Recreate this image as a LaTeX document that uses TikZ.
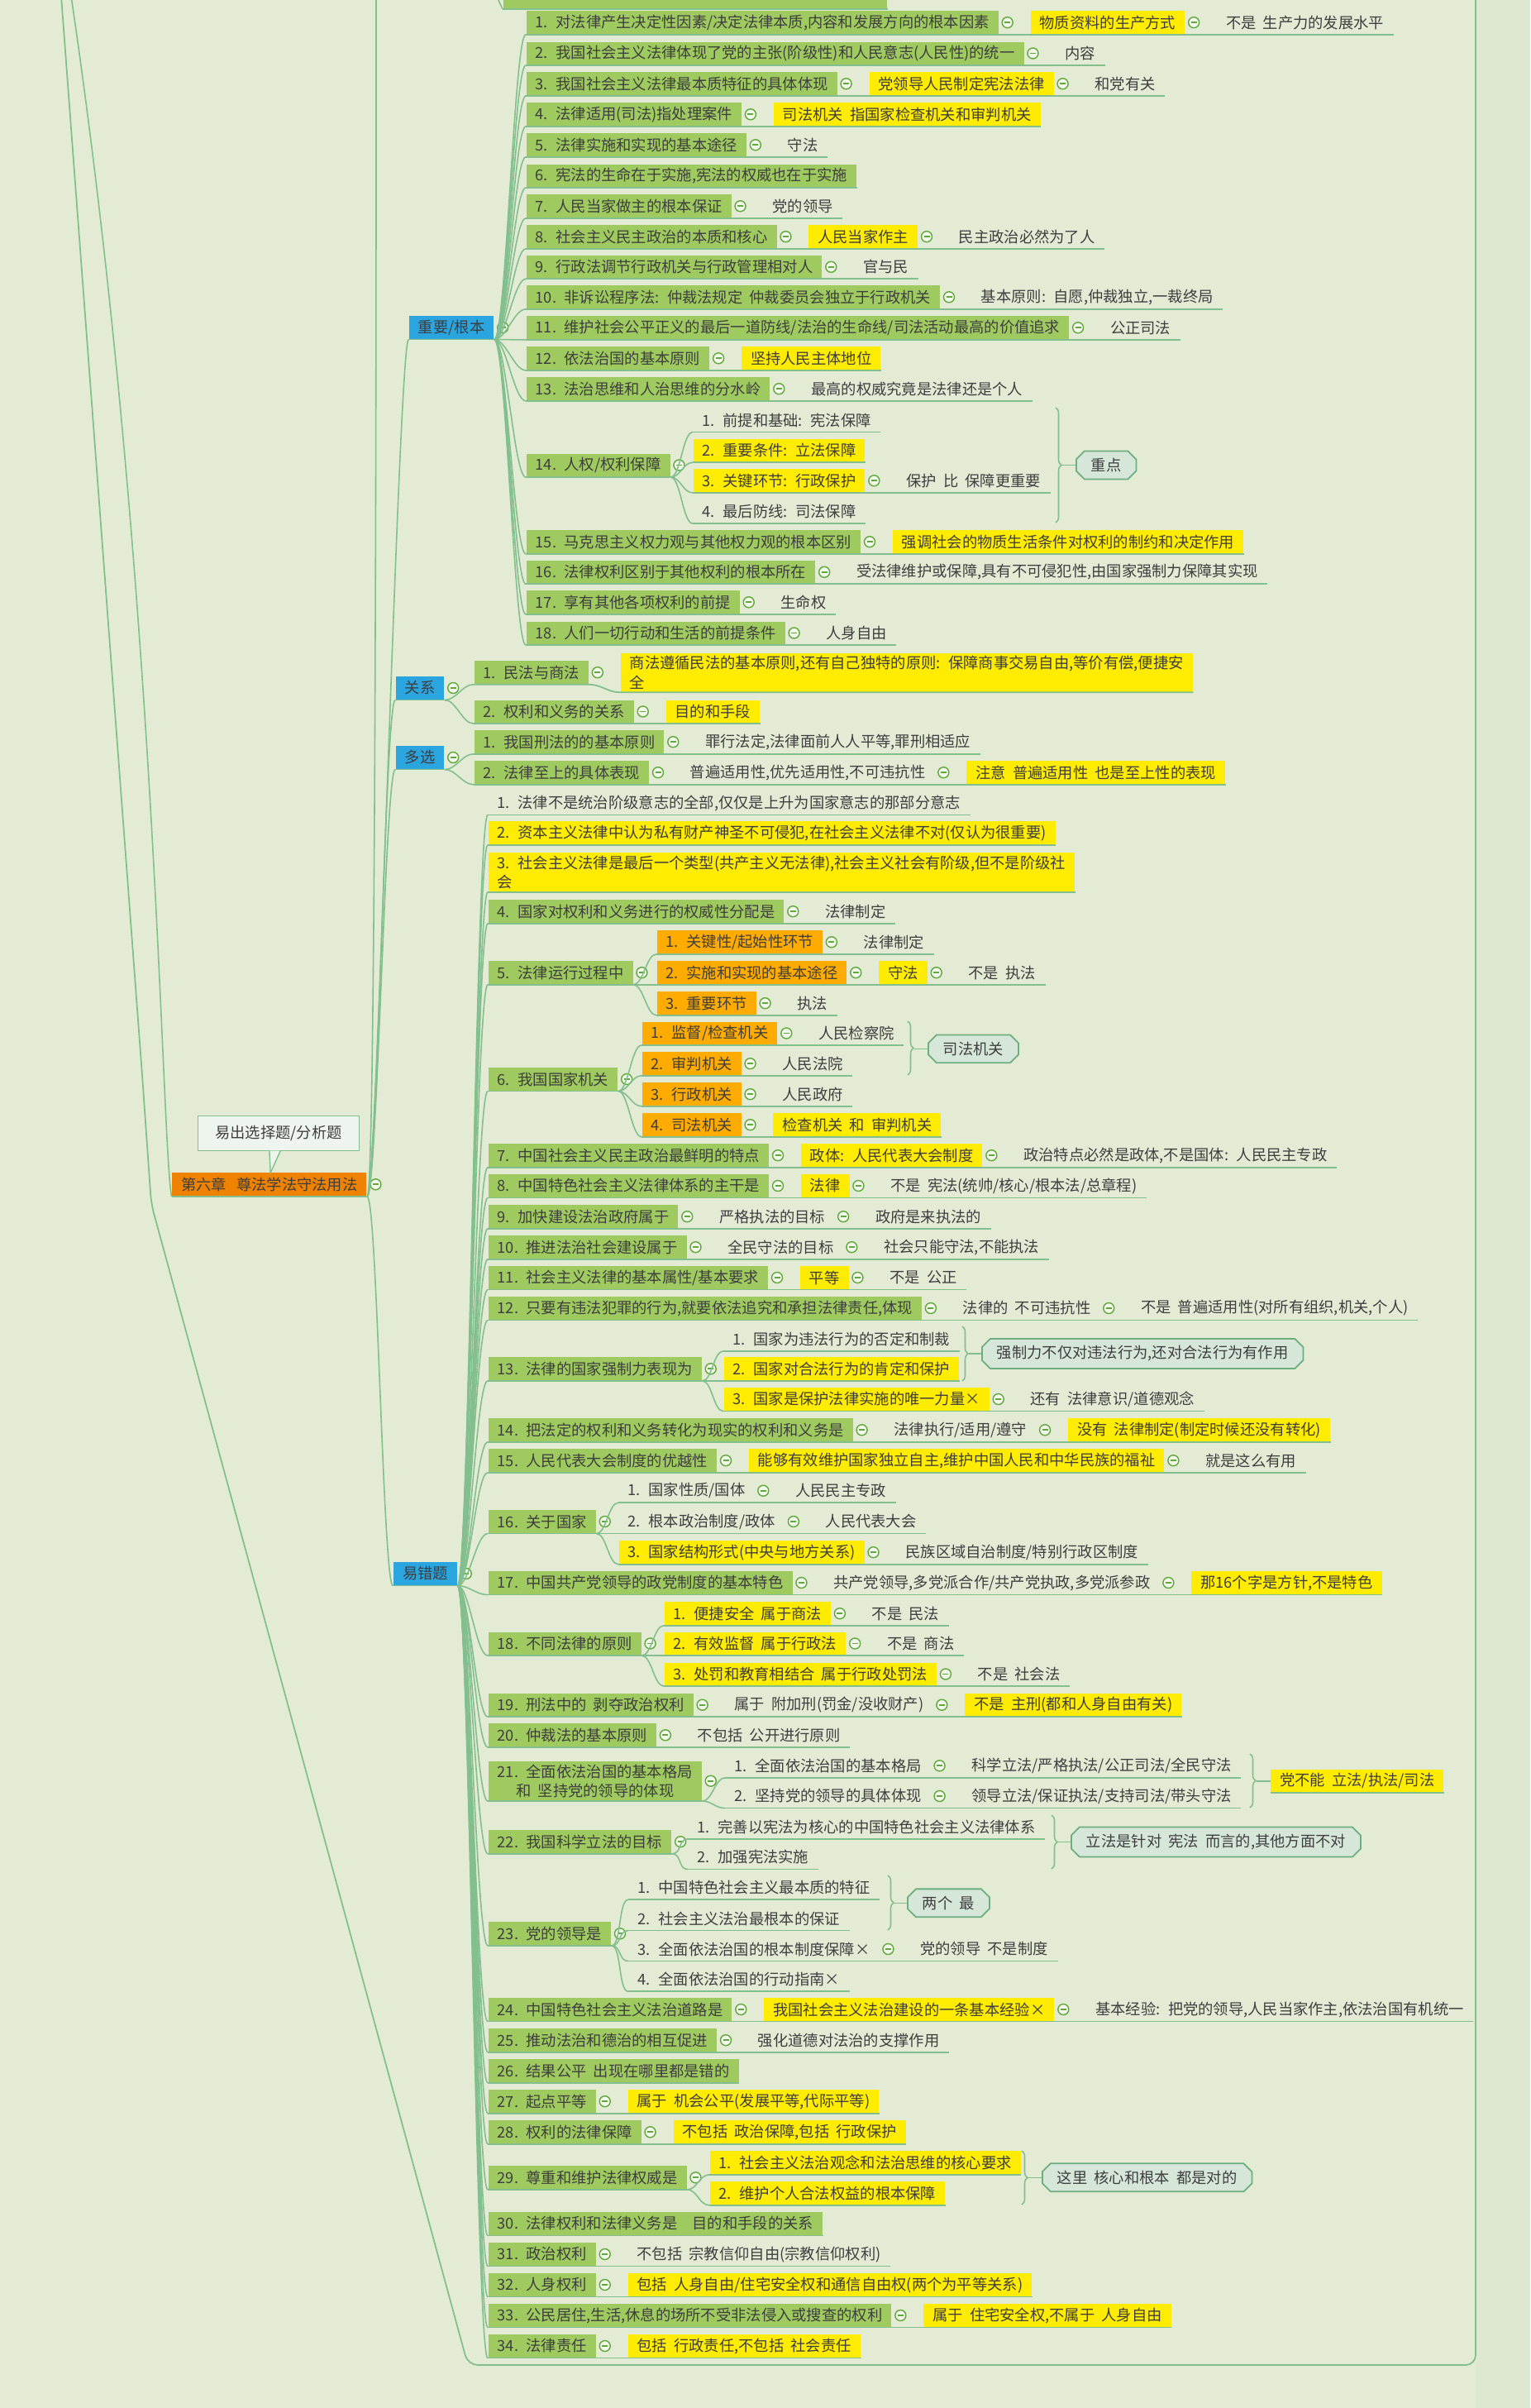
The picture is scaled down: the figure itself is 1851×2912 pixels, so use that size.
\documentclass[tikz,border=0pt]{standalone}
\usepackage{fontspec}
\setmainfont[WordSpace=2]{Noto Sans CJK SC}
\usetikzlibrary{positioning,shapes.misc,decorations.pathreplacing}
\definecolor{bgc}{HTML}{E3EBD5}
\definecolor{bgr}{HTML}{DEE7D0}
\definecolor{ink}{HTML}{3E3E3E}
\definecolor{leaf}{HTML}{9ECA5F}
\definecolor{hilite}{HTML}{FFEC00}
\definecolor{warm}{HTML}{FFAB00}
\definecolor{rootc}{HTML}{EF8200}
\definecolor{branch}{HTML}{2AA5E0}
\definecolor{linec}{HTML}{82BE8E}
\definecolor{foldc}{HTML}{5FA83A}
\definecolor{foldbg}{HTML}{F4F8EC}
\definecolor{notec}{HTML}{6DAE7E}
\definecolor{notebg}{HTML}{D6E7DA}
\definecolor{bubble}{HTML}{EEF5EE}
\tikzset{
  every node/.style={font=\fontsize{5.2pt}{6.6pt}\selectfont,text=ink},
  topic/.style={anchor=west,minimum height=0.277cm,inner xsep=0.11cm,inner ysep=1pt},
  gbox/.style={topic,fill=leaf},
  ybox/.style={topic,fill=hilite},
  obox/.style={topic,fill=warm},
  pbox/.style={topic},
  bbox/.style={topic,fill=branch,anchor=east},
  fold/.style={circle,draw=foldc,fill=foldbg,minimum size=0.13cm,inner sep=0pt,line width=0.4pt,
    path picture={\draw[foldc,line width=0.5pt] ([xshift=-0.035cm]path picture bounding box.center)
      -- ([xshift=0.035cm]path picture bounding box.center);}},
  fo/.style={fold,right=0.03cm of #1},
  af/.style={right=0.2cm of #1},
  uline/.style={draw=linec,line width=0.5pt},
  link/.style={draw=linec,line width=0.45pt},
  note/.style={chamfered rectangle,chamfered rectangle xsep=0.05cm,chamfered rectangle ysep=0.05cm,
    draw=notec,fill=notebg,line width=0.5pt,minimum height=0.24cm,inner xsep=0.13cm,inner ysep=1pt,anchor=west},
  summ/.style={link,decorate,decoration={brace,amplitude=0.07cm}},
}

\begin{document}
\begin{tikzpicture}[x=0.01cm,y=-0.01cm]
  \useasboundingbox (0,0) rectangle (1851,2912);
  \clip (0,0) rectangle (1851,2912);
  \fill[bgc] (0,0) rectangle (1851,2912);
  \fill[bgr] (1785,0) rectangle (1851,2912);
  % boundary round the chapter
  \draw[linec,line width=0.5pt,rounded corners=0.12cm] (74,-5) -- (172,1300) -- (183,1456)
    -- (566,2860) -- (1785,2860) -- (1785,-5);

  % chapter
  \node[topic,fill=rootc,minimum height=0.281cm] (root) at (207.6,1432.3) {第六章\hspace{0.12cm}尊法学法守法用法};
  \node[fo=root] (rootf) {};
  \node[draw=linec,fill=bubble,minimum width=1.95cm,minimum height=0.42cm,inner sep=0pt] (tipbox)
    at (337,1370.5) {易出选择题/分析题};
  \filldraw[draw=linec,fill=bubble] (325.9,1391.5) -- (327.2,1418.3) -- (339.3,1391.5);
  \coordinate (upB) at (86,-5);
  \coordinate (upR) at (455,-5);
  \node[gbox,minimum width=4.64cm] (prev) at (608,-3.5) {};
  \coordinate (prevp) at (596,-40);

  % branches
  \node[bbox] (zy) at (598,396) {重要/根本};
  \node[fo=zy] (zyf) {};
  \node[bbox] (gx) at (538,832) {关系};
  \node[fo=gx] (gxf) {};
  \node[bbox] (dx) at (538,916) {多选};
  \node[fo=dx] (dxf) {};
  \node[bbox] (yc) at (553.6,1903) {易错题};
  \node[fo=yc] (ycf) {};

  % 重要/根本
  \node[gbox] (z1) at (636,27.2) {1. 对法律产生决定性因素/决定法律本质,内容和发展方向的根本因素};
  \node[fo=z1] (z1f) {};
  \node[ybox,af=z1f] (z1a) {物质资料的生产方式};
  \node[fo=z1a] (z1g) {};
  \node[pbox,af=z1g] (z1b) {不是 生产力的发展水平};
  \node[gbox] (z2) at (636,64.5) {2. 我国社会主义法律体现了党的主张(阶级性)和人民意志(人民性)的统一};
  \node[fo=z2] (z2f) {};
  \node[pbox,af=z2f] (z2a) {内容};
  \node[gbox] (z3) at (636,101.3) {3. 我国社会主义法律最本质特征的具体体现};
  \node[fo=z3] (z3f) {};
  \node[ybox,af=z3f] (z3a) {党领导人民制定宪法法律};
  \node[fo=z3a] (z3g) {};
  \node[pbox,af=z3g] (z3b) {和党有关};
  \node[gbox] (z4) at (636,138.3) {4. 法律适用(司法)指处理案件};
  \node[fo=z4] (z4f) {};
  \node[ybox,af=z4f] (z4a) {司法机关 指国家检查机关和审判机关};
  \node[gbox] (z5) at (636,175.3) {5. 法律实施和实现的基本途径};
  \node[fo=z5] (z5f) {};
  \node[pbox,af=z5f] (z5a) {守法};
  \node[gbox] (z6) at (636,212.5) {6. 宪法的生命在于实施,宪法的权威也在于实施};
  \node[gbox] (z7) at (636,249.3) {7. 人民当家做主的根本保证};
  \node[fo=z7] (z7f) {};
  \node[pbox,af=z7f] (z7a) {党的领导};
  \node[gbox] (z8) at (636,286.2) {8. 社会主义民主政治的本质和核心};
  \node[fo=z8] (z8f) {};
  \node[ybox,af=z8f] (z8a) {人民当家作主};
  \node[fo=z8a] (z8g) {};
  \node[pbox,af=z8g] (z8b) {民主政治必然为了人};
  \node[gbox] (z9) at (636,322.8) {9. 行政法调节行政机关与行政管理相对人};
  \node[fo=z9] (z9f) {};
  \node[pbox,af=z9f] (z9a) {官与民};
  \node[gbox] (z10) at (636,359.3) {10. 非诉讼程序法: 仲裁法规定 仲裁委员会独立于行政机关};
  \node[fo=z10] (z10f) {};
  \node[pbox,af=z10f] (z10a) {基本原则: 自愿,仲裁独立,一裁终局};
  \node[gbox] (z11) at (636,396.3) {11. 维护社会公平正义的最后一道防线/法治的生命线/司法活动最高的价值追求};
  \node[fo=z11] (z11f) {};
  \node[pbox,af=z11f] (z11a) {公正司法};
  \node[gbox] (z12) at (636,433.3) {12. 依法治国的基本原则};
  \node[fo=z12] (z12f) {};
  \node[ybox,af=z12f] (z12a) {坚持人民主体地位};
  \node[gbox] (z13) at (636,470.2) {13. 法治思维和人治思维的分水岭};
  \node[fo=z13] (z13f) {};
  \node[pbox,af=z13f] (z13a) {最高的权威究竟是法律还是个人};
  \node[gbox] (z14) at (636,562.5) {14. 人权/权利保障};
  \node[fo=z14] (z14f) {};
  \node[pbox] (z14s1) at (838,508) {1. 前提和基础: 宪法保障};
  \node[ybox] (z14s2) at (838,544.7) {2. 重要条件: 立法保障};
  \node[ybox] (z14s3) at (838,581.3) {3. 关键环节: 行政保护};
  \node[fo=z14s3] (z14s3f) {};
  \node[pbox,af=z14s3f] (z14s3a) {保护 比 保障更重要};
  \node[pbox] (z14s4) at (838,618.5) {4. 最后防线: 司法保障};
  \coordinate (br14a) at (1277,493);
  \coordinate (br14b) at (1277,632);
  \coordinate (br14m) at (1285,562.5);
  \node[note] (n14) at (1301,562.5) {重点};
  \node[gbox] (z15) at (636,655.2) {15. 马克思主义权力观与其他权力观的根本区别};
  \node[fo=z15] (z15f) {};
  \node[ybox,af=z15f] (z15a) {强调社会的物质生活条件对权利的制约和决定作用};
  \node[gbox] (z16) at (636,691.8) {16. 法律权利区别于其他权利的根本所在};
  \node[fo=z16] (z16f) {};
  \node[pbox,af=z16f] (z16a) {受法律维护或保障,具有不可侵犯性,由国家强制力保障其实现};
  \node[gbox] (z17) at (636,728.3) {17. 享有其他各项权利的前提};
  \node[fo=z17] (z17f) {};
  \node[pbox,af=z17f] (z17a) {生命权};
  \node[gbox] (z18) at (636,765.5) {18. 人们一切行动和生活的前提条件};
  \node[fo=z18] (z18f) {};
  \node[pbox,af=z18f] (z18a) {人身自由};

  % 关系
  \node[gbox] (g1) at (573,813.2) {1. 民法与商法};
  \node[fo=g1] (g1f) {};
  \node[ybox,af=g1f,align=left] (g1a) {商法遵循民法的基本原则,还有自己独特的原则: 保障商事交易自由,等价有偿,便捷安\\全};
  \node[gbox] (g2) at (573,860.5) {2. 权利和义务的关系};
  \node[fo=g2] (g2f) {};
  \node[ybox,af=g2f] (g2a) {目的和手段};

  % 多选
  \node[gbox] (d1) at (573,897.2) {1. 我国刑法的的基本原则};
  \node[fo=d1] (d1f) {};
  \node[pbox,af=d1f] (d1a) {罪行法定,法律面前人人平等,罪刑相适应};
  \node[gbox] (d2) at (573,934.2) {2. 法律至上的具体表现};
  \node[fo=d2] (d2f) {};
  \node[pbox,af=d2f] (d2a) {普遍适用性,优先适用性,不可违抗性};
  \node[fo=d2a] (d2g) {};
  \node[ybox,af=d2g] (d2b) {注意 普遍适用性 也是至上性的表现};

  % 易错题
  \node[pbox] (y1) at (590,971) {1. 法律不是统治阶级意志的全部,仅仅是上升为国家意志的那部分意志};
  \node[ybox] (y2) at (590,1007.3) {2. 资本主义法律中认为私有财产神圣不可侵犯,在社会主义法律不对(仅认为很重要)};
  \node[ybox,align=left] (y3) at (590,1054.7) {3. 社会主义法律是最后一个类型(共产主义无法律),社会主义社会有阶级,但不是阶级社\\会};
  \node[gbox] (y4) at (590,1102.2) {4. 国家对权利和义务进行的权威性分配是};
  \node[fo=y4] (y4f) {};
  \node[pbox,af=y4f] (y4a) {法律制定};
  \node[gbox] (y5) at (590,1176.2) {5. 法律运行过程中};
  \node[fo=y5] (y5f) {};
  \node[obox] (y5s1) at (794,1139.3) {1. 关键性/起始性环节};
  \node[fo=y5s1] (y5s1f) {};
  \node[pbox,af=y5s1f] (y5s1a) {法律制定};
  \node[obox] (y5s2) at (794,1176.2) {2. 实施和实现的基本途径};
  \node[fo=y5s2] (y5s2f) {};
  \node[ybox,af=y5s2f] (y5s2a) {守法};
  \node[fo=y5s2a] (y5s2g) {};
  \node[pbox,af=y5s2g] (y5s2b) {不是 执法};
  \node[obox] (y5s3) at (794,1213.2) {3. 重要环节};
  \node[fo=y5s3] (y5s3f) {};
  \node[pbox,af=y5s3f] (y5s3a) {执法};
  \node[gbox] (y6) at (590,1305) {6. 我国国家机关};
  \node[fo=y6] (y6f) {};
  \node[obox] (y6s1) at (776,1249.5) {1. 监督/检查机关};
  \node[fo=y6s1] (y6s1f) {};
  \node[pbox,af=y6s1f] (y6s1a) {人民检察院};
  \node[obox] (y6s2) at (776,1286.2) {2. 审判机关};
  \node[fo=y6s2] (y6s2f) {};
  \node[pbox,af=y6s2f] (y6s2a) {人民法院};
  \coordinate (br6a) at (1098,1235);
  \coordinate (br6b) at (1098,1300);
  \coordinate (br6m) at (1106,1268.4);
  \node[note] (n6) at (1122,1268.4) {司法机关};
  \node[obox] (y6s3) at (776,1323.2) {3. 行政机关};
  \node[fo=y6s3] (y6s3f) {};
  \node[pbox,af=y6s3f] (y6s3a) {人民政府};
  \node[obox] (y6s4) at (776,1360.2) {4. 司法机关};
  \node[fo=y6s4] (y6s4f) {};
  \node[ybox,af=y6s4f] (y6s4a) {检查机关 和 审判机关};
  \node[gbox] (y7) at (590,1397.2) {7. 中国社会主义民主政治最鲜明的特点};
  \node[fo=y7] (y7f) {};
  \node[ybox,af=y7f] (y7a) {政体: 人民代表大会制度};
  \node[fo=y7a] (y7g) {};
  \node[pbox,af=y7g] (y7b) {政治特点必然是政体,不是国体: 人民民主专政};
  \node[gbox] (y8) at (590,1434) {8. 中国特色社会主义法律体系的主干是};
  \node[fo=y8] (y8f) {};
  \node[ybox,af=y8f] (y8a) {法律};
  \node[fo=y8a] (y8g) {};
  \node[pbox,af=y8g] (y8b) {不是 宪法(统帅/核心/根本法/总章程)};
  \node[gbox] (y9) at (590,1471.2) {9. 加快建设法治政府属于};
  \node[fo=y9] (y9f) {};
  \node[pbox,af=y9f] (y9a) {严格执法的目标};
  \node[fo=y9a] (y9g) {};
  \node[pbox,af=y9g] (y9b) {政府是来执法的};
  \node[gbox] (y10) at (590,1508.2) {10. 推进法治社会建设属于};
  \node[fo=y10] (y10f) {};
  \node[pbox,af=y10f] (y10a) {全民守法的目标};
  \node[fo=y10a] (y10g) {};
  \node[pbox,af=y10g] (y10b) {社会只能守法,不能执法};
  \node[gbox] (y11) at (590,1545) {11. 社会主义法律的基本属性/基本要求};
  \node[fo=y11] (y11f) {};
  \node[ybox,af=y11f] (y11a) {平等};
  \node[fo=y11a] (y11g) {};
  \node[pbox,af=y11g] (y11b) {不是 公正};
  \node[gbox] (y12) at (590,1582) {12. 只要有违法犯罪的行为,就要依法追究和承担法律责任,体现};
  \node[fo=y12] (y12f) {};
  \node[pbox,af=y12f] (y12a) {法律的 不可违抗性};
  \node[fo=y12a] (y12g) {};
  \node[pbox,af=y12g] (y12b) {不是 普遍适用性(对所有组织,机关,个人)};
  \node[gbox] (y13) at (590,1655.3) {13. 法律的国家强制力表现为};
  \node[fo=y13] (y13f) {};
  \node[pbox] (y13s1) at (875,1619.3) {1. 国家为违法行为的否定和制裁};
  \node[ybox] (y13s2) at (875,1655.3) {2. 国家对合法行为的肯定和保护};
  \coordinate (br13a) at (1164,1604);
  \coordinate (br13b) at (1164,1670);
  \coordinate (br13m) at (1172,1637);
  \node[note] (n13) at (1187,1637) {强制力不仅对违法行为,还对合法行为有作用};
  \node[ybox] (y13s3) at (875,1692) {3. 国家是保护法律实施的唯一力量×};
  \node[fo=y13s3] (y13s3f) {};
  \node[pbox,af=y13s3f] (y13s3a) {还有 法律意识/道德观念};
  \node[gbox] (y14) at (590,1729.3) {14. 把法定的权利和义务转化为现实的权利和义务是};
  \node[fo=y14] (y14f) {};
  \node[pbox,af=y14f] (y14a) {法律执行/适用/遵守};
  \node[fo=y14a] (y14g) {};
  \node[ybox,af=y14g] (y14b) {没有 法律制定(制定时候还没有转化)};
  \node[gbox] (y15) at (590,1766.2) {15. 人民代表大会制度的优越性};
  \node[fo=y15] (y15f) {};
  \node[ybox,af=y15f] (y15a) {能够有效维护国家独立自主,维护中国人民和中华民族的福祉};
  \node[fo=y15a] (y15g) {};
  \node[pbox,af=y15g] (y15b) {就是这么有用};
  \node[gbox] (y16) at (590,1840) {16. 关于国家};
  \node[fo=y16] (y16f) {};
  \node[pbox] (y16s1) at (748,1802.7) {1. 国家性质/国体};
  \node[fo=y16s1] (y16s1f) {};
  \node[pbox,af=y16s1f] (y16s1a) {人民民主专政};
  \node[pbox] (y16s2) at (748,1840) {2. 根本政治制度/政体};
  \node[fo=y16s2] (y16s2f) {};
  \node[pbox,af=y16s2f] (y16s2a) {人民代表大会};
  \node[ybox] (y16s3) at (748,1877.2) {3. 国家结构形式(中央与地方关系)};
  \node[fo=y16s3] (y16s3f) {};
  \node[pbox,af=y16s3f] (y16s3a) {民族区域自治制度/特别行政区制度};
  \node[gbox] (y17) at (590,1914) {17. 中国共产党领导的政党制度的基本特色};
  \node[fo=y17] (y17f) {};
  \node[pbox,af=y17f] (y17a) {共产党领导,多党派合作/共产党执政,多党派参政};
  \node[fo=y17a] (y17g) {};
  \node[ybox,af=y17g] (y17b) {那16个字是方针,不是特色};
  \node[gbox] (y18) at (590,1987.5) {18. 不同法律的原则};
  \node[fo=y18] (y18f) {};
  \node[ybox] (y18s1) at (803,1951.2) {1. 便捷安全 属于商法};
  \node[fo=y18s1] (y18s1f) {};
  \node[pbox,af=y18s1f] (y18s1a) {不是 民法};
  \node[ybox] (y18s2) at (803,1987.5) {2. 有效监督 属于行政法};
  \node[fo=y18s2] (y18s2f) {};
  \node[pbox,af=y18s2f] (y18s2a) {不是 商法};
  \node[ybox] (y18s3) at (803,2024.5) {3. 处罚和教育相结合 属于行政处罚法};
  \node[fo=y18s3] (y18s3f) {};
  \node[pbox,af=y18s3f] (y18s3a) {不是 社会法};
  \node[gbox] (y19) at (590,2061.7) {19. 刑法中的 剥夺政治权利};
  \node[fo=y19] (y19f) {};
  \node[pbox,af=y19f] (y19a) {属于 附加刑(罚金/没收财产)};
  \node[fo=y19a] (y19g) {};
  \node[ybox,af=y19g] (y19b) {不是 主刑(都和人身自由有关)};
  \node[gbox] (y20) at (590,2098.3) {20. 仲裁法的基本原则};
  \node[fo=y20] (y20f) {};
  \node[pbox,af=y20f] (y20a) {不包括 公开进行原则};
  \node[gbox,align=center] (y21) at (590,2153.7) {21. 全面依法治国的基本格局\\和 坚持党的领导的体现};
  \node[fo=y21] (y21f) {};
  \node[pbox] (y21s1) at (877,2135.3) {1. 全面依法治国的基本格局};
  \node[fo=y21s1] (y21s1f) {};
  \node[pbox,af=y21s1f] (y21s1a) {科学立法/严格执法/公正司法/全民守法};
  \node[pbox] (y21s2) at (877,2172) {2. 坚持党的领导的具体体现};
  \node[fo=y21s2] (y21s2f) {};
  \node[pbox,af=y21s2f] (y21s2a) {领导立法/保证执法/支持司法/带头守法};
  \coordinate (br21a) at (1512,2121);
  \coordinate (br21b) at (1512,2186);
  \coordinate (br21m) at (1520,2153.7);
  \node[ybox] (y21n) at (1536.5,2153.7) {党不能 立法/执法/司法};
  \node[gbox] (y22) at (590,2227.2) {22. 我国科学立法的目标};
  \node[fo=y22] (y22f) {};
  \node[pbox] (y22s1) at (832,2209.3) {1. 完善以宪法为核心的中国特色社会主义法律体系};
  \node[pbox] (y22s2) at (832,2246) {2. 加强宪法实施};
  \coordinate (br22a) at (1272,2195);
  \coordinate (br22b) at (1272,2260);
  \coordinate (br22m) at (1280,2227.5);
  \node[note] (n22) at (1295,2227.5) {立法是针对 宪法 而言的,其他方面不对};
  \node[gbox] (y23) at (590,2338.3) {23. 党的领导是};
  \node[fo=y23] (y23f) {};
  \node[pbox] (y23s1) at (760,2282.7) {1. 中国特色社会主义最本质的特征};
  \node[pbox] (y23s2) at (760,2320) {2. 社会主义法治最根本的保证};
  \coordinate (br23a) at (1074,2268);
  \coordinate (br23b) at (1074,2334);
  \coordinate (br23m) at (1082,2301.3);
  \node[note] (n23) at (1097,2301.3) {两个 最};
  \node[pbox] (y23s3) at (760,2357) {3. 全面依法治国的根本制度保障×};
  \node[fo=y23s3] (y23s3f) {};
  \node[pbox,af=y23s3f] (y23s3a) {党的领导 不是制度};
  \node[pbox] (y23s4) at (760,2393.7) {4. 全面依法治国的行动指南×};
  \node[gbox] (y24) at (590,2430) {24. 中国特色社会主义法治道路是};
  \node[fo=y24] (y24f) {};
  \node[ybox,af=y24f] (y24a) {我国社会主义法治建设的一条基本经验×};
  \node[fo=y24a] (y24g) {};
  \node[pbox,af=y24g] (y24b) {基本经验: 把党的领导,人民当家作主,依法治国有机统一};
  \node[gbox] (y25) at (590,2467.2) {25. 推动法治和德治的相互促进};
  \node[fo=y25] (y25f) {};
  \node[pbox,af=y25f] (y25a) {强化道德对法治的支撑作用};
  \node[gbox] (y26) at (590,2504.2) {26. 结果公平 出现在哪里都是错的};
  \node[gbox] (y27) at (590,2541.2) {27. 起点平等};
  \node[fo=y27] (y27f) {};
  \node[ybox,af=y27f] (y27a) {属于 机会公平(发展平等,代际平等)};
  \node[gbox] (y28) at (590,2578.3) {28. 权利的法律保障};
  \node[fo=y28] (y28f) {};
  \node[ybox,af=y28f] (y28a) {不包括 政治保障,包括 行政保护};
  \node[gbox] (y29) at (590,2633.3) {29. 尊重和维护法律权威是};
  \node[fo=y29] (y29f) {};
  \node[ybox] (y29s1) at (858,2615.3) {1. 社会主义法治观念和法治思维的核心要求};
  \node[ybox] (y29s2) at (858,2652.2) {2. 维护个人合法权益的根本保障};
  \coordinate (br29a) at (1236,2601);
  \coordinate (br29b) at (1236,2666);
  \coordinate (br29m) at (1244,2633.3);
  \node[note] (n29) at (1260,2633.3) {这里 核心和根本 都是对的};
  \node[gbox] (y30) at (590,2689) {30. 法律权利和法律义务是\hspace{0.1cm} 目的和手段的关系};
  \node[gbox] (y31) at (590,2726) {31. 政治权利};
  \node[fo=y31] (y31f) {};
  \node[pbox,af=y31f] (y31a) {不包括 宗教信仰自由(宗教信仰权利)};
  \node[gbox] (y32) at (590,2763) {32. 人身权利};
  \node[fo=y32] (y32f) {};
  \node[ybox,af=y32f] (y32a) {包括 人身自由/住宅安全权和通信自由权(两个为平等关系)};
  \node[gbox] (y33) at (590,2800) {33. 公民居住,生活,休息的场所不受非法侵入或搜查的权利};
  \node[fo=y33] (y33f) {};
  \node[ybox,af=y33f] (y33a) {属于 住宅安全权,不属于 人身自由};
  \node[gbox] (y34) at (590,2837) {34. 法律责任};
  \node[fo=y34] (y34f) {};
  \node[ybox,af=y34f] (y34a) {包括 行政责任,不包括 社会责任};

  % underlines
  \foreach \a/\b in {z1/z1b,z2/z2a,z3/z3b,z4/z4a,z5/z5a,z6/z6,z7/z7a,z8/z8b,z9/z9a,z10/z10a,
      z11/z11a,z12/z12a,z13/z13a,z14/z14,z14s1/z14s1,z14s2/z14s2,z14s3/z14s3a,z14s4/z14s4,
      z15/z15a,z16/z16a,z17/z17a,z18/z18a,g2/g2a,d1/d1a,d2/d2b,
      y1/y1,y2/y2,y3/y3,y4/y4a,y5/y5,y5s1/y5s1a,y5s2/y5s2b,y5s3/y5s3a,y6/y6,y6s1/y6s1a,
      y6s2/y6s2a,y6s3/y6s3a,y6s4/y6s4a,y7/y7b,y8/y8b,y9/y9b,y10/y10b,y11/y11b,y12/y12b,
      y13/y13,y13s1/y13s1,y13s2/y13s2,y13s3/y13s3a,y14/y14b,y15/y15b,y16/y16,y16s1/y16s1a,
      y16s2/y16s2a,y16s3/y16s3a,y17/y17b,y18/y18,y18s1/y18s1a,y18s2/y18s2a,y18s3/y18s3a,
      y19/y19b,y20/y20a,y21/y21,y21s1/y21s1a,y21s2/y21s2a,y21n/y21n,y22/y22,y22s1/y22s1,
      y22s2/y22s2,y23/y23,y23s1/y23s1,y23s2/y23s2,y23s3/y23s3a,y23s4/y23s4,y24/y24b,
      y25/y25a,y26/y26,y27/y27a,y28/y28a,y29/y29,y29s1/y29s1,y29s2/y29s2,y30/y30,
      y31/y31a,y32/y32a,y33/y33a,y34/y34a,zy/zy,gx/gx,dx/dx,yc/yc,root/root,prev/prev}
    \draw[uline] (\a.south west) -- (\b.south east);
  \draw[uline] (g1.south west) -- (g1.south east) to[out=0,in=180] (g1a.south west) -- (g1a.south east);

  % connectors
  \draw[link] (upB) .. controls (190,700) and (195,1380) .. (root.south west);
  \draw[link] (prevp) .. controls (598,-10) .. (prev.south west);
  \foreach \k in {zy,gx,dx,yc}
    \draw[link] (root.south east) .. controls +(12,0) and +(-12,0) .. (\k.south west);
  \draw[link] (root.south east) .. controls +(12,0) and +(0,40) .. (upR);
  \foreach \k in {1,...,18}
    \draw[link] (zy.south east) .. controls +(14,0) and +(-14,0) .. (z\k.south west);
  \foreach \k in {1,2}
    \draw[link] (gx.south east) .. controls +(14,0) and +(-14,0) .. (g\k.south west);
  \foreach \k in {1,2}
    \draw[link] (dx.south east) .. controls +(14,0) and +(-14,0) .. (d\k.south west);
  \foreach \k in {1,...,34}
    \draw[link] (yc.south east) .. controls +(14,0) and +(-14,0) .. (y\k.south west);
  \foreach \p/\n in {z14/4,y5/3,y6/4,y13/3,y16/3,y18/3,y21/2,y22/2,y23/4,y29/2}
    \foreach \k in {1,...,\n}
      \draw[link] (\p.south east) .. controls +(12,0) and +(-12,0) .. (\p s\k.south west);

  % summaries
  \foreach \s in {14,6,13,21,22,23,29}
    \draw[summ] (br\s a) -- (br\s b);
  \draw[link] (br14m) -- (n14.west);
  \draw[link] (br6m) -- (n6.west);
  \draw[link] (br13m) -- (n13.west);
  \draw[link] (br21m) -- (y21n.west);
  \draw[link] (br22m) -- (n22.west);
  \draw[link] (br23m) -- (n23.west);
  \draw[link] (br29m) -- (n29.west);
\end{tikzpicture}
\end{document}
